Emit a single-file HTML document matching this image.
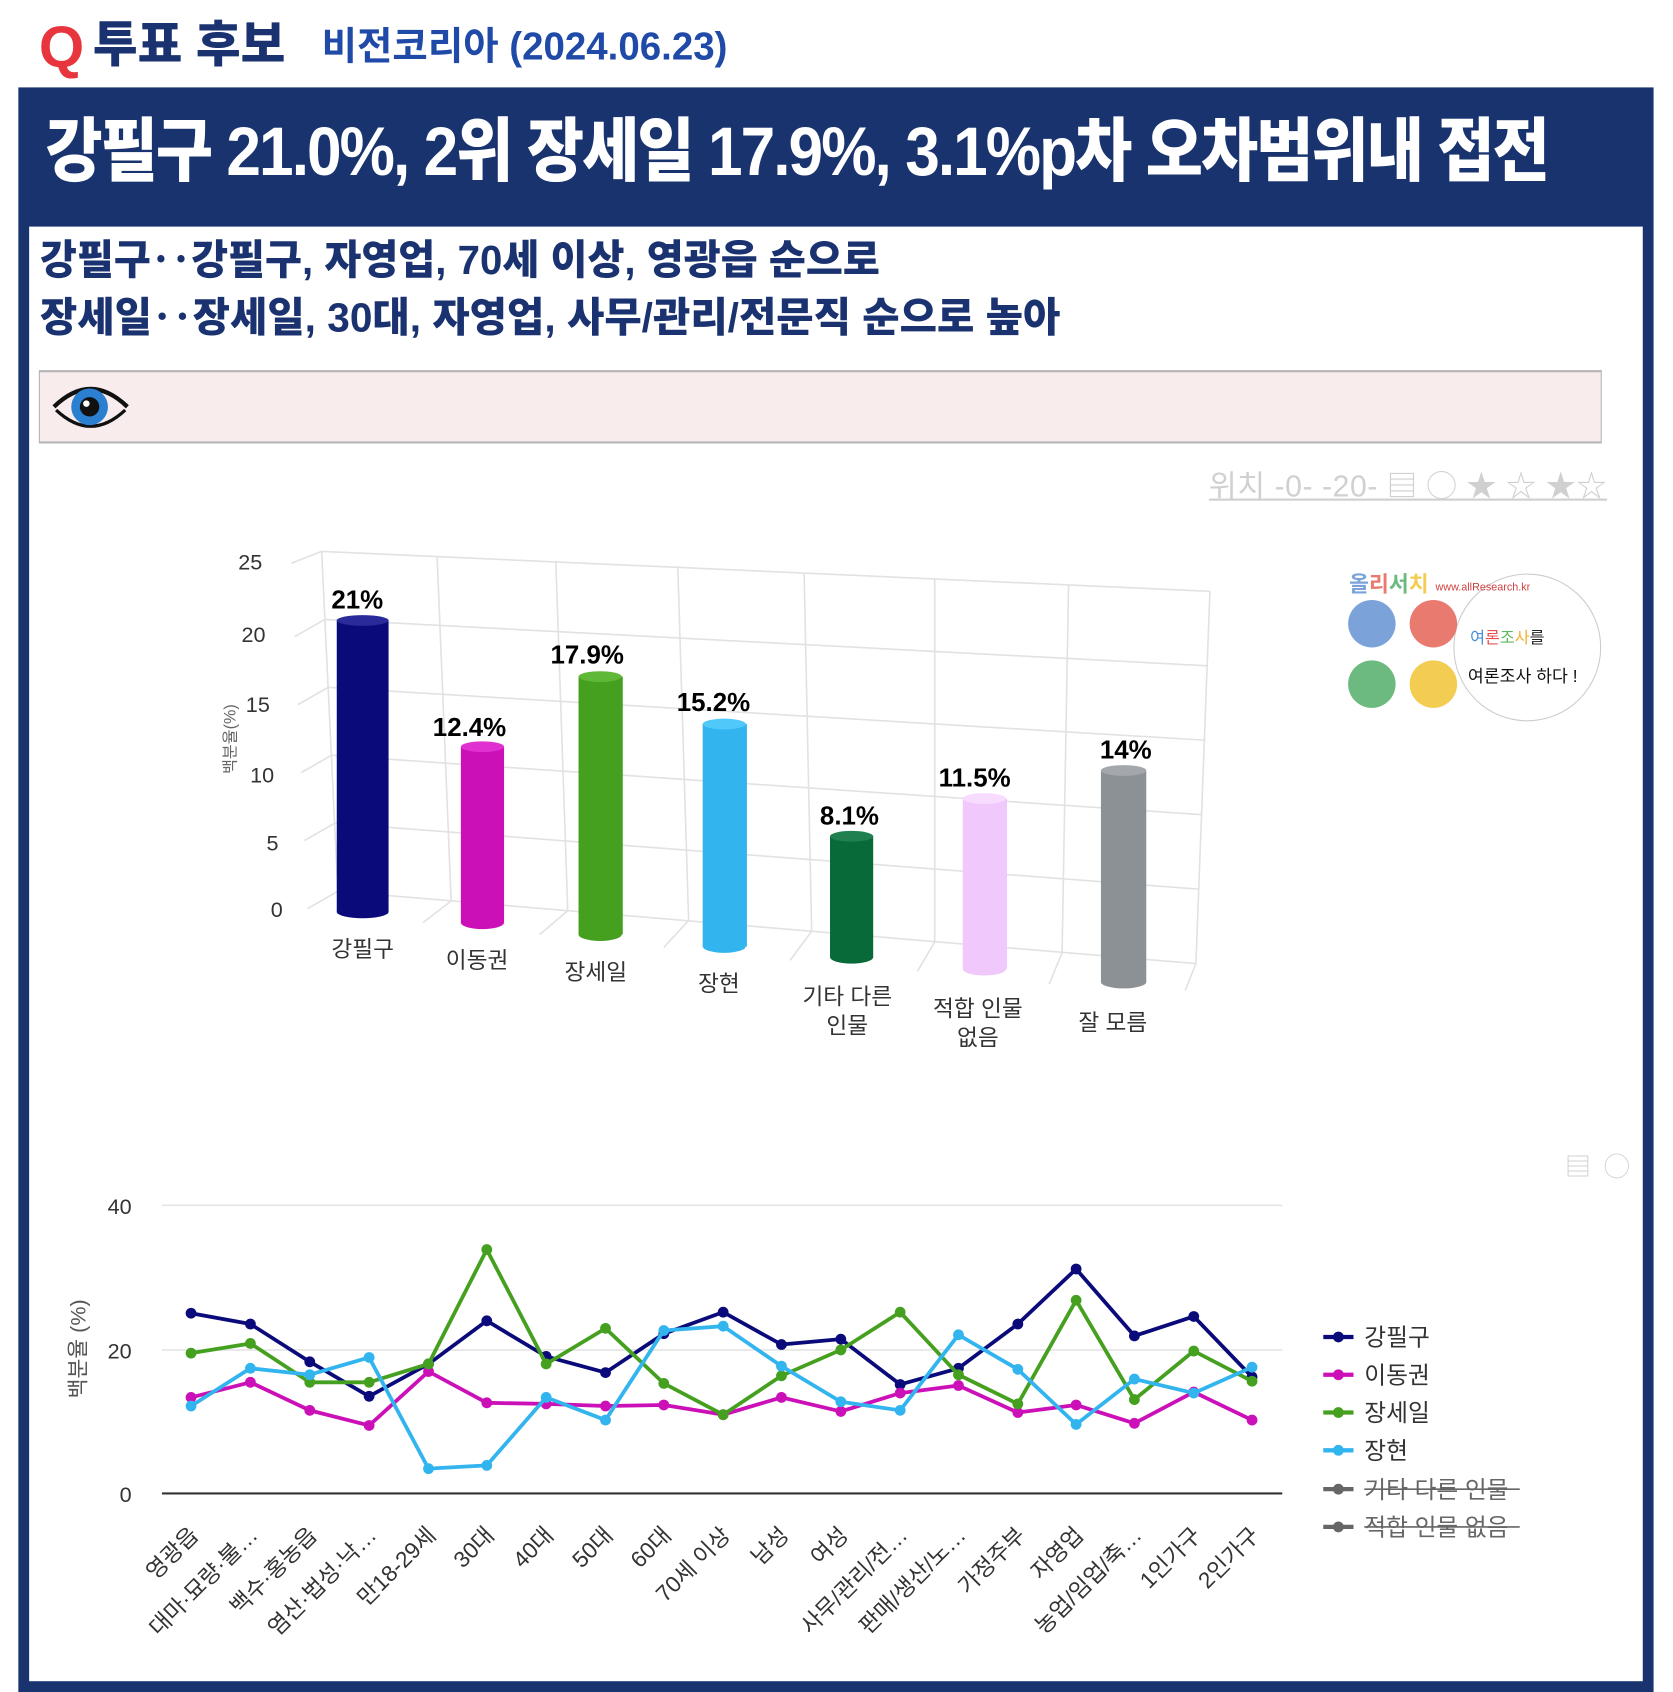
<!DOCTYPE html>
<html><head><meta charset="utf-8">
<style>
html,body{margin:0;padding:0;background:#fff;}
body{width:1673px;height:1692px;overflow:hidden;position:relative;}
#w{position:absolute;left:0;top:0;width:1550px;height:1568px;transform:scale(1.07935,1.07908);transform-origin:0 0;font-family:"Liberation Sans","Noto Sans CJK KR",sans-serif;}
.a{position:absolute;white-space:nowrap;}
</style></head><body><div id="w">
<div class="a" style="left:36px;top:14px;font-size:54px;font-weight:900;color:#e8343c;line-height:60px;">Q</div>
<div class="a" style="left:86px;top:14px;font-size:46px;font-weight:900;color:#1a3370;line-height:54px;transform:scaleX(0.98);transform-origin:0 0;">투표 후보</div>
<div class="a" style="left:298px;top:20px;font-size:36px;font-weight:700;color:#1f4aa8;line-height:46px;transform:scaleX(0.99);transform-origin:0 0;">비전코리아 (2024.06.23)</div>
<div class="a" style="left:17px;top:81px;width:1515px;height:1487px;background:#19336f;"></div>
<div class="a" style="left:27px;top:210px;width:1495px;height:1348px;background:#fff;"></div>
<div class="a" style="left:42px;top:100px;font-size:64px;font-weight:900;color:#fff;line-height:80px;letter-spacing:-2px;transform:scaleX(0.90);transform-origin:0 0;">강필구 21.0%, 2위 장세일 17.9%, 3.1%p차 오차범위내 접전</div>
<div class="a" style="left:37px;top:218px;font-size:38px;font-weight:900;color:#1a3370;line-height:48px;transform:scaleX(0.98);transform-origin:0 0;">강필구‥강필구, 자영업, 70세 이상, 영광읍 순으로</div>
<div class="a" style="left:37px;top:271px;font-size:38px;font-weight:900;color:#1a3370;line-height:48px;transform:scaleX(0.99);transform-origin:0 0;">장세일‥장세일, 30대, 자영업, 사무/관리/전문직 순으로 높아</div>
<div class="a" style="left:36px;top:343px;width:1446px;height:64px;background:#f9ecec;border:1px solid #b5b5b5;border-width:2px 1px 2px 1px;"></div>
<svg class="a" style="left:46px;top:350px" width="76" height="54" viewBox="0 0 76 54">
<path d="M4 27 Q38 -6 72 27" fill="none" stroke="#111" stroke-width="4"/>
<path d="M6 30 Q38 60 70 30" fill="none" stroke="#111" stroke-width="3"/>
<circle cx="37" cy="27" r="17" fill="#2b7fd0"/><circle cx="37" cy="27" r="9" fill="#111"/><circle cx="34" cy="24" r="3" fill="#fff"/></svg>
<div class="a" style="left:1120px;top:432px;font-size:28px;color:#d0d0d0;line-height:38px;text-decoration:underline;letter-spacing:0.5px;">위치 -0- -20- ▤ ◯ ★ ☆ ★☆</div>

<svg class="a" style="left:0;top:0" width="1550" height="1568">
<g stroke="#e2e2e2" stroke-width="1.5" fill="none">
<line x1="298" y1="511" x2="1121" y2="548"/>
<line x1="301" y1="574" x2="1119" y2="617"/>
<line x1="304" y1="637" x2="1117" y2="686"/>
<line x1="307" y1="700" x2="1114" y2="755"/>
<line x1="310" y1="763" x2="1111" y2="824"/>
<line x1="313" y1="826" x2="1108" y2="893"/>
<line x1="298" y1="511" x2="313" y2="826"/>
<line x1="1121" y1="548" x2="1108" y2="893"/>
<line x1="405" y1="516" x2="418" y2="835"/>
<line x1="515" y1="521" x2="526" y2="844"/>
<line x1="628" y1="526" x2="638" y2="853"/>
<line x1="745" y1="531" x2="752" y2="863"/>
<line x1="866" y1="537" x2="866" y2="873"/>
<line x1="990" y1="542" x2="984" y2="883"/>
<line x1="313" y1="826" x2="285" y2="842"/><line x1="310" y1="763" x2="282" y2="779"/><line x1="307" y1="700" x2="279" y2="716"/><line x1="304" y1="637" x2="276" y2="653"/><line x1="301" y1="574" x2="273" y2="590"/><line x1="298" y1="511" x2="270" y2="522"/>
<line x1="418" y1="835" x2="392" y2="855"/><line x1="526" y1="844" x2="500" y2="866"/><line x1="638" y1="853" x2="615" y2="878"/><line x1="752" y1="863" x2="732" y2="890"/><line x1="866" y1="873" x2="850" y2="900"/><line x1="984" y1="883" x2="972" y2="912"/><line x1="1108" y1="893" x2="1098" y2="918"/>
</g>
<g font-size="20" fill="#333" text-anchor="end">
<text x="243" y="528">25</text><text x="246" y="595">20</text><text x="250" y="660">15</text><text x="254" y="725">10</text><text x="258" y="788">5</text><text x="262" y="850">0</text></g>
<text transform="translate(218,685) rotate(-90)" font-size="15" fill="#666" text-anchor="middle">백분율(%)</text>
<g>
<rect x="312" y="575" width="48" height="270" fill="#0a0a7a"/><ellipse cx="336" cy="845" rx="24" ry="6" fill="#0a0a7a"/><ellipse cx="336" cy="575" rx="24" ry="5" fill="#2a2a9a"/>
<rect x="427" y="692" width="40" height="163" fill="#cc10b8"/><ellipse cx="447" cy="855" rx="20" ry="6" fill="#cc10b8"/><ellipse cx="447" cy="692" rx="20" ry="5" fill="#e030d0"/>
<rect x="536" y="627" width="41" height="239" fill="#46a020"/><ellipse cx="556" cy="866" rx="20" ry="6" fill="#46a020"/><ellipse cx="556" cy="627" rx="20" ry="5" fill="#60b838"/>
<rect x="651" y="671" width="41" height="206" fill="#32b4ee"/><ellipse cx="671" cy="877" rx="20" ry="6" fill="#32b4ee"/><ellipse cx="671" cy="671" rx="20" ry="5" fill="#50c8fa"/>
<rect x="769" y="775" width="40" height="112" fill="#086a38"/><ellipse cx="789" cy="887" rx="20" ry="6" fill="#086a38"/><ellipse cx="789" cy="775" rx="20" ry="5" fill="#208050"/>
<rect x="892" y="740" width="41" height="158" fill="#f0c8fc"/><ellipse cx="912" cy="898" rx="20" ry="6" fill="#f0c8fc"/><ellipse cx="912" cy="740" rx="20" ry="5" fill="#f8dcff"/>
<rect x="1020" y="714" width="42" height="196" fill="#8c9196"/><ellipse cx="1041" cy="910" rx="21" ry="6" fill="#8c9196"/><ellipse cx="1041" cy="714" rx="21" ry="5" fill="#a4a8ac"/>
</g>
<g font-size="24" font-weight="700" fill="#000" text-anchor="middle">
<text x="331" y="564">21%</text><text x="435" y="682">12.4%</text><text x="544" y="615">17.9%</text><text x="661" y="659">15.2%</text><text x="787" y="764">8.1%</text><text x="903" y="729">11.5%</text><text x="1043" y="703">14%</text></g>
<g font-size="21" fill="#333" text-anchor="middle">
<text x="336" y="887">강필구</text><text x="442" y="897">이동권</text><text x="552" y="908">장세일</text><text x="666" y="919">장현</text><text x="785" y="931">기타 다른</text><text x="785" y="958">인물</text><text x="906" y="942">적합 인물</text><text x="906" y="969">없음</text><text x="1031" y="955">잘 모름</text></g>

<circle cx="1415" cy="600" r="68" fill="#fff" stroke="#ccc" stroke-width="1"/>
<circle cx="1271" cy="578" r="22" fill="#7ba3d9"/><circle cx="1328" cy="578" r="22" fill="#e87a6f"/><circle cx="1271" cy="634" r="22" fill="#6dba80"/><circle cx="1328" cy="634" r="22" fill="#f2cd52"/>
<text x="1250" y="548" font-size="20" font-weight="700"><tspan fill="#7ba3d9">올</tspan><tspan fill="#e87a6f">리</tspan><tspan fill="#6dba80">서</tspan><tspan fill="#f2cd52">치</tspan></text>
<text x="1330" y="547" font-size="10" fill="#d04040">www.allResearch.kr</text>
<text x="1362" y="596" font-size="15"><tspan fill="#4a90d9">여</tspan><tspan fill="#e85050">론</tspan><tspan fill="#5cb85c">조</tspan><tspan fill="#f0b030">사</tspan><tspan fill="#222">를</tspan></text>
<text x="1360" y="632" font-size="16" fill="#111">여론조사 하다 !</text>

<text x="1450" y="1090" font-size="24" fill="#d0d0d0">▤</text><text x="1486" y="1090" font-size="24" fill="#d0d0d0">◯</text>
<line x1="150" y1="1117" x2="1188" y2="1117" stroke="#e4e4e4" stroke-width="1.5"/>
<line x1="150" y1="1251" x2="1188" y2="1251" stroke="#e4e4e4" stroke-width="1.5"/>
<line x1="150" y1="1384" x2="1188" y2="1384" stroke="#333" stroke-width="2"/>
<g font-size="20" fill="#333" text-anchor="end"><text x="122" y="1125">40</text><text x="122" y="1259">20</text><text x="122" y="1392">0</text></g>
<text transform="translate(79,1250) rotate(-90)" font-size="20" fill="#555" text-anchor="middle">백분율 (%)</text>
<defs>
<marker id="m1" markerWidth="12" markerHeight="12" refX="6" refY="6" markerUnits="userSpaceOnUse"><circle cx="6" cy="6" r="5" fill="#0a0a7a"/></marker>
<marker id="m2" markerWidth="12" markerHeight="12" refX="6" refY="6" markerUnits="userSpaceOnUse"><circle cx="6" cy="6" r="5" fill="#cc10b8"/></marker>
<marker id="m3" markerWidth="12" markerHeight="12" refX="6" refY="6" markerUnits="userSpaceOnUse"><circle cx="6" cy="6" r="5" fill="#46a020"/></marker>
<marker id="m4" markerWidth="12" markerHeight="12" refX="6" refY="6" markerUnits="userSpaceOnUse"><circle cx="6" cy="6" r="5" fill="#32b4ee"/></marker>
</defs>
<g fill="none" stroke-width="3.5" stroke-linejoin="round">
<polyline stroke="#0a0a7a" marker-start="url(#m1)" marker-mid="url(#m1)" marker-end="url(#m1)" points="177,1217 232,1227 287,1262 342,1294 397,1264 451,1224 506,1257 561,1272 615,1236 670,1216 724,1246 779,1241 834,1283 888,1268 943,1227 997,1176 1051,1238 1106,1220 1160,1276"/>
<polyline stroke="#cc10b8" marker-start="url(#m2)" marker-mid="url(#m2)" marker-end="url(#m2)" points="177,1295 232,1281 287,1307 342,1321 397,1271 451,1300 506,1301 561,1303 615,1302 670,1311 724,1295 779,1308 834,1291 888,1284 943,1309 997,1302 1051,1319 1106,1290 1160,1316"/>
<polyline stroke="#46a020" marker-start="url(#m3)" marker-mid="url(#m3)" marker-end="url(#m3)" points="177,1254 232,1245 287,1281 342,1281 397,1264 451,1158 506,1264 561,1231 615,1282 670,1311 724,1275 779,1251 834,1216 888,1274 943,1301 997,1205 1051,1297 1106,1252 1160,1280"/>
<polyline stroke="#32b4ee" marker-start="url(#m4)" marker-mid="url(#m4)" marker-end="url(#m4)" points="177,1303 232,1268 287,1274 342,1258 397,1361 451,1358 506,1295 561,1316 615,1233 670,1229 724,1266 779,1299 834,1307 888,1237 943,1269 997,1320 1051,1278 1106,1291 1160,1267"/>
</g>
<g font-size="21" fill="#333" text-anchor="end">
<text transform="translate(185,1424) rotate(-45)">영광읍</text>
<text transform="translate(240,1424) rotate(-45)">대마·묘량·불…</text>
<text transform="translate(295,1424) rotate(-45)">백수·홍농읍</text>
<text transform="translate(350,1424) rotate(-45)">염산·법성·낙…</text>
<text transform="translate(405,1424) rotate(-45)">만18-29세</text>
<text transform="translate(459,1424) rotate(-45)">30대</text>
<text transform="translate(514,1424) rotate(-45)">40대</text>
<text transform="translate(569,1424) rotate(-45)">50대</text>
<text transform="translate(623,1424) rotate(-45)">60대</text>
<text transform="translate(678,1424) rotate(-45)">70세 이상</text>
<text transform="translate(732,1424) rotate(-45)">남성</text>
<text transform="translate(787,1424) rotate(-45)">여성</text>
<text transform="translate(842,1424) rotate(-45)">사무/관리/전…</text>
<text transform="translate(896,1424) rotate(-45)">판매/생산/노…</text>
<text transform="translate(951,1424) rotate(-45)">가정주부</text>
<text transform="translate(1005,1424) rotate(-45)">자영업</text>
<text transform="translate(1059,1424) rotate(-45)">농업/임업/축…</text>
<text transform="translate(1114,1424) rotate(-45)">1인가구</text>
<text transform="translate(1168,1424) rotate(-45)">2인가구</text>
</g>
<g stroke-width="4">
<line x1="1226" y1="1239" x2="1254" y2="1239" stroke="#0a0a7a"/><circle cx="1240" cy="1239" r="5" fill="#0a0a7a"/>
<line x1="1226" y1="1274" x2="1254" y2="1274" stroke="#cc10b8"/><circle cx="1240" cy="1274" r="5" fill="#cc10b8"/>
<line x1="1226" y1="1309" x2="1254" y2="1309" stroke="#46a020"/><circle cx="1240" cy="1309" r="5" fill="#46a020"/>
<line x1="1226" y1="1344" x2="1254" y2="1344" stroke="#32b4ee"/><circle cx="1240" cy="1344" r="5" fill="#32b4ee"/>
<line x1="1226" y1="1380" x2="1254" y2="1380" stroke="#666"/><circle cx="1240" cy="1380" r="5" fill="#666"/>
<line x1="1226" y1="1415" x2="1254" y2="1415" stroke="#666"/><circle cx="1240" cy="1415" r="5" fill="#666"/>
</g>
<g font-size="22" fill="#333">
<text x="1264" y="1247">강필구</text><text x="1264" y="1282">이동권</text><text x="1264" y="1317">장세일</text><text x="1264" y="1352">장현</text>
<text x="1264" y="1388" fill="#666">기타 다른 인물</text><text x="1264" y="1423" fill="#666">적합 인물 없음</text>
<line x1="1264" y1="1380" x2="1408" y2="1380" stroke="#666" stroke-width="1.5"/><line x1="1264" y1="1415" x2="1408" y2="1415" stroke="#666" stroke-width="1.5"/>
</g>
</svg>
</div></body></html>
